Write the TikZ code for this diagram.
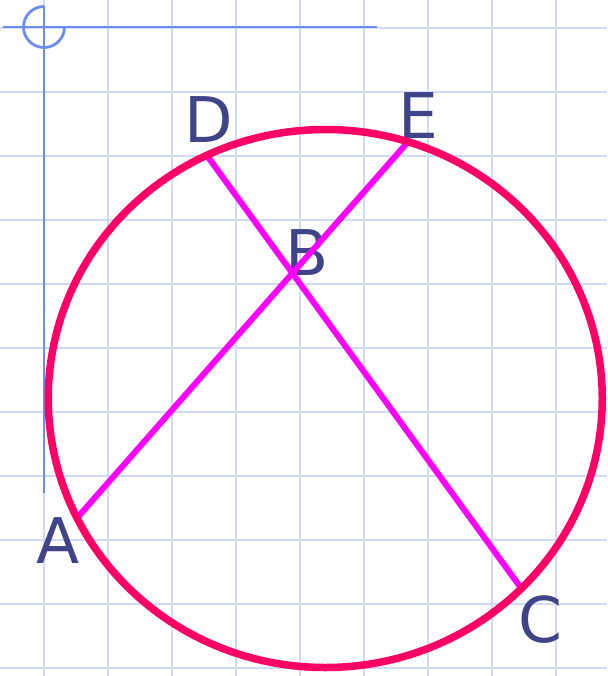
\documentclass[tikz,border=0pt]{standalone}
\usepackage{fontspec}
\setmainfont{DejaVu Sans}
\definecolor{gridc}{HTML}{CFDBF8}
\definecolor{axisc}{HTML}{6D8CF3}
\definecolor{circc}{HTML}{FF0066}
\definecolor{chordc}{HTML}{FF00FF}
\definecolor{labc}{HTML}{3F4488}
\tikzset{
  gridline/.style={draw=gridc, line width=2.5pt},
  axisline/.style={draw=axisc, line width=2.8pt},
  chord/.style={draw=chordc, line width=6pt},
  bigcircle/.style={draw=circc, line width=7.5pt},
  lab/.style={text=labc, inner sep=0pt, anchor=base, font=\fontsize{63}{63}\selectfont}
}
\begin{document}
\begin{tikzpicture}[x=1pt,y=-1pt]
\useasboundingbox (0,0) rectangle (607,676);
\fill[white] (0,0) rectangle (607,676);
% grid
\foreach \gx in {44,108,...,556} \draw[gridline] (\gx,0) -- (\gx,676);
\foreach \gy in {28,92,...,668} \draw[gridline] (0,\gy) -- (607,\gy);
% axes
\coordinate (O) at (44,27);
\coordinate (xend) at (377,27);
\coordinate (xstart) at (3,27);
\coordinate (ytop) at (44,6.5);
\coordinate (yend) at (44,493);
\draw[axisline] (xstart) -- (xend);
\draw[axisline] (ytop) -- (yend);
\draw[axisline] (ytop) arc[start angle=270, end angle=0, radius=20.5];
% points
\coordinate (A) at (77,518);
\coordinate (C) at (521,588);
\coordinate (D) at (208,157);
\coordinate (E) at (407,143);
\coordinate (B) at (intersection of A--E and D--C);
\coordinate (M) at (325.25,398.5);
% labels
\node[lab] (lA) at (58,563) {A};
\node[lab] (lB) at (307,275) {B};
\node[lab] (lC) at (540,642) {C};
\node[lab] (lD) at (209,143) {D};
\node[lab] (lE) at (418,139) {E};
% chords
\draw[chord] (A) -- (E);
\draw[chord] (D) -- (C);
% circle
\draw[bigcircle] (M) ellipse [x radius=277, y radius=269];
\end{tikzpicture}
\end{document}
